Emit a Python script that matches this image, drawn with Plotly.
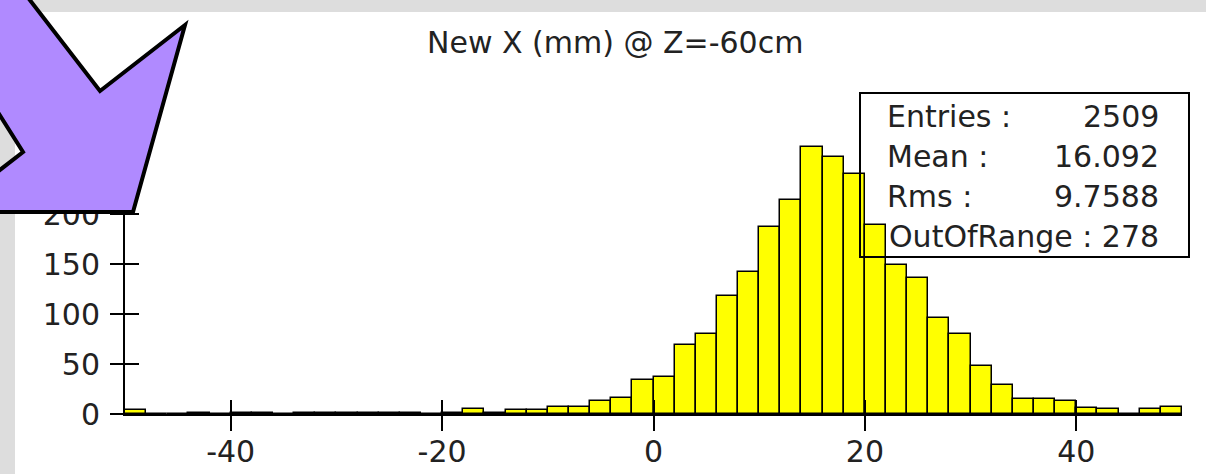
import plotly.graph_objects as go

# ---- data ----
bin_centers = [-49, -47, -45, -43, -41, -39, -37, -35, -33, -31,
               -29, -27, -25, -23, -21, -19, -17, -15, -13, -11,
               -9, -7, -5, -3, -1, 1, 3, 5, 7, 9,
               11, 13, 15, 17, 19, 21, 23, 25, 27, 29,
               31, 33, 35, 37, 39, 41, 43, 45, 47, 49]
counts = [4, 0, 0, 1, 0, 1, 1, 0, 1, 1,
          1, 1, 1, 1, 0, 1, 5, 1, 4, 4,
          7, 7, 13, 16, 34, 37, 69, 80, 118, 142,
          187, 214, 267, 257, 240, 189, 149, 136, 96, 80,
          48, 29, 15, 15, 13, 6, 5, 0, 5, 7]
bin_width = 2
x_ticks = [-40, -20, 0, 20, 40]
x_tick_text = ["-40", "-20", "0", "20", "40"]
y_ticks = [0, 50, 100, 150, 200, 250, 300]
title_text = "New X (mm) @ Z=-60cm"
stat_labels = ["Entries :", "Mean :", "Rms :"]
stat_values = ["2509", "16.092", "9.7588"]
stat_last = "OutOfRange : 278"

# ---- layout geometry (pixels) ----
W, H = 1206, 474
L, R, T, B = 125, 24, 114, 60
PW = W - L - R
PH = H - T - B
Y0 = H - B


def px(p):
    return (p - L) / PW


def py(p):
    return (Y0 - p) / PH


FONT = "DejaVu Sans"
TXT = "#222222"

fig = go.Figure()
fig.add_trace(go.Bar(
    x=bin_centers, y=counts, width=bin_width,
    marker=dict(color="#FFFF00", line=dict(color="black", width=1.5)),
    showlegend=False, hoverinfo="x+y",
))
# empty trace to create overlay axes for inward tick halves
fig.add_trace(go.Scatter(x=[], y=[], xaxis="x2", yaxis="y2",
                         showlegend=False, hoverinfo="skip"))

axis_common = dict(showgrid=False, zeroline=False, automargin=False)
fig.update_layout(
    width=W, height=H,
    margin=dict(l=L, r=R, t=T, b=B, pad=0, autoexpand=False),
    paper_bgcolor="white", plot_bgcolor="white",
    bargap=0,
    font=dict(family=FONT, size=30, color=TXT),
    xaxis=dict(range=[-50, 50], tickvals=x_ticks, ticktext=x_tick_text,
               ticks="outside", ticklen=15, ticklabelstandoff=-5,
               tickwidth=2, tickcolor="black", showline=True, linecolor="black",
               linewidth=2, tickfont=dict(size=30, color=TXT, family=FONT),
               **axis_common),
    yaxis=dict(range=[0, 300], tickvals=y_ticks, ticks="outside", ticklen=13,
               tickwidth=2, tickcolor="black", showline=True, linecolor="black",
               linewidth=2, tickfont=dict(size=30, color=TXT, family=FONT),
               ticklabelstandoff=4, **axis_common),
    xaxis2=dict(range=[-50, 50], tickvals=x_ticks, ticks="inside", ticklen=14,
                tickwidth=2, tickcolor="black", showticklabels=False,
                overlaying="x", anchor="y2", showline=False, **axis_common),
    yaxis2=dict(range=[0, 300], tickvals=y_ticks, ticks="inside", ticklen=14,
                tickwidth=2, tickcolor="black", showticklabels=False,
                overlaying="y", anchor="x2", showline=False, **axis_common),
)

shapes = []
# grey window frame (top and left bands)
shapes.append(dict(type="rect", xref="paper", yref="paper",
                   x0=px(0), x1=px(W), y0=py(0), y1=py(12),
                   fillcolor="#DDDDDD", line=dict(width=0), layer="below"))
shapes.append(dict(type="rect", xref="paper", yref="paper",
                   x0=px(0), x1=px(15), y0=py(0), y1=py(H),
                   fillcolor="#DDDDDD", line=dict(width=0), layer="below"))
# statistics box
shapes.append(dict(type="rect", xref="paper", yref="paper",
                   x0=px(860), x1=px(1189), y0=py(93), y1=py(257),
                   fillcolor="rgba(0,0,0,0)", line=dict(color="black", width=2),
                   layer="above"))
# purple arrow overlay
arrow_pts = [(9, -27), (100, 91), (185, 25), (133, 212), (-40, 212),
             (-40, 201), (23, 152), (-40, 52), (-40, -27)]
path = "M " + " L ".join(f"{px(a):.5f},{py(b):.5f}" for a, b in arrow_pts) + " Z"
shapes.append(dict(type="path", xref="paper", yref="paper", path=path,
                   fillcolor="#B08AFF", line=dict(color="black", width=4),
                   layer="above"))
fig.update_layout(shapes=shapes)

ann = []
ann.append(dict(text=title_text, xref="paper", yref="paper", x=px(615), y=py(42),
                xanchor="center", yanchor="middle", showarrow=False,
                font=dict(size=30, color=TXT, family=FONT)))
line_y = [116, 156, 196]
for lab, val, yy in zip(stat_labels, stat_values, line_y):
    ann.append(dict(text=lab, xref="paper", yref="paper", x=px(885), y=py(yy),
                    xanchor="left", yanchor="middle", showarrow=False,
                    font=dict(size=30, color=TXT, family=FONT)))
    ann.append(dict(text=val, xref="paper", yref="paper", x=px(1161), y=py(yy),
                    xanchor="right", yanchor="middle", showarrow=False,
                    font=dict(size=30, color=TXT, family=FONT)))
ann.append(dict(text=stat_last, xref="paper", yref="paper", x=px(1161), y=py(236),
                xanchor="right", yanchor="middle", showarrow=False,
                font=dict(size=30, color=TXT, family=FONT)))
fig.update_layout(annotations=ann)

post = (
    "var de=document.documentElement, bd=document.body;"
    "de.style.margin='0';de.style.padding='0';de.style.overflow='hidden';"
    "bd.style.margin='0';bd.style.padding='0';bd.style.overflow='hidden';"
    "var gd=document.getElementById('{plot_id}');"
    "gd.style.position='fixed';gd.style.left='0px';gd.style.top='0px';"
)
fig.write_html("out.html", post_script=post,
               config={"displayModeBar": False})
